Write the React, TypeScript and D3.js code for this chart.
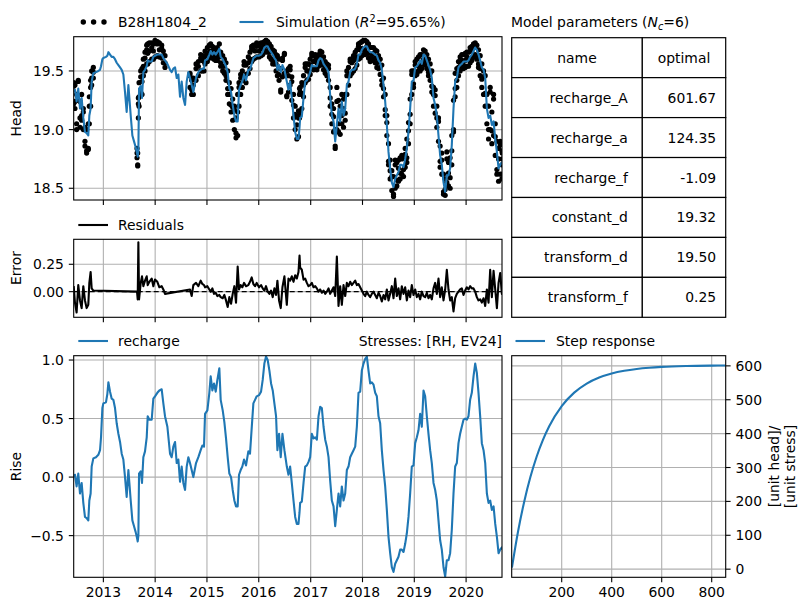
import { useEffect, useRef } from "react";
import * as d3 from "d3";

// time of each model step, decimal years
const times = [
  2012.429, 2012.453, 2012.485, 2012.517, 2012.550, 2012.582, 2012.614, 2012.646, 2012.678, 2012.710,
  2012.730, 2012.755, 2012.775, 2012.807, 2012.858, 2012.903, 2012.936, 2012.955, 2012.981, 2013.000,
  2013.051, 2013.077, 2013.097, 2013.129, 2013.161, 2013.193, 2013.225, 2013.257, 2013.290, 2013.322,
  2013.354, 2013.386, 2013.418, 2013.450, 2013.483, 2013.502, 2013.528, 2013.560, 2013.592, 2013.624,
  2013.650, 2013.663, 2013.676, 2013.689, 2013.721, 2013.746, 2013.772, 2013.804, 2013.837, 2013.856,
  2013.888, 2013.933, 2013.965, 2013.997, 2014.042, 2014.081, 2014.126, 2014.158, 2014.190, 2014.236,
  2014.287, 2014.319, 2014.351, 2014.384, 2014.416, 2014.448, 2014.480, 2014.512, 2014.544, 2014.577,
  2014.609, 2014.641, 2014.673, 2014.705, 2014.737, 2014.789, 2014.834, 2014.879, 2014.911, 2014.943,
  2014.963, 2015.008, 2015.046, 2015.072, 2015.104, 2015.136, 2015.169, 2015.201, 2015.239, 2015.265,
  2015.304, 2015.336, 2015.368, 2015.400, 2015.432, 2015.465, 2015.497, 2015.529, 2015.561, 2015.593,
  2015.619, 2015.651, 2015.683, 2015.716, 2015.754, 2015.799, 2015.831, 2015.864, 2015.896, 2015.928,
  2015.960, 2016.005, 2016.044, 2016.076, 2016.108, 2016.140, 2016.172, 2016.205, 2016.237, 2016.269,
  2016.301, 2016.333, 2016.359, 2016.391, 2016.423, 2016.456, 2016.494,
  2016.540, 2016.572, 2016.604, 2016.636, 2016.669, 2016.701, 2016.733, 2016.765, 2016.785, 2016.797,
  2016.829, 2016.862, 2016.894, 2016.926, 2016.958, 2016.990, 2017.022, 2017.055, 2017.087, 2017.119,
  2017.151, 2017.183, 2017.215, 2017.248, 2017.280, 2017.312, 2017.344, 2017.376, 2017.408, 2017.441,
  2017.473, 2017.505, 2017.537, 2017.569, 2017.601, 2017.634, 2017.666, 2017.698, 2017.730, 2017.762,
  2017.794, 2017.827, 2017.859, 2017.891, 2017.923, 2017.955, 2017.987, 2018.020, 2018.052, 2018.084,
  2018.116, 2018.148, 2018.180, 2018.213, 2018.245, 2018.277, 2018.309, 2018.341, 2018.373, 2018.406,
  2018.438, 2018.470, 2018.502, 2018.534, 2018.566, 2018.599, 2018.631, 2018.663, 2018.695, 2018.727,
  2018.759, 2018.792, 2018.824, 2018.856, 2018.888, 2018.920, 2018.952, 2018.985, 2019.017, 2019.049,
  2019.081, 2019.113, 2019.145, 2019.178, 2019.210, 2019.242, 2019.274, 2019.306, 2019.338, 2019.371,
  2019.403, 2019.435, 2019.467, 2019.499, 2019.531, 2019.564, 2019.596, 2019.628, 2019.660, 2019.692,
  2019.724, 2019.757, 2019.789, 2019.821, 2019.853, 2019.885, 2019.917, 2019.950, 2019.982, 2020.014,
  2020.046, 2020.078, 2020.110, 2020.143, 2020.175, 2020.207, 2020.239, 2020.271, 2020.303, 2020.336,
  2020.368, 2020.400, 2020.432, 2020.464, 2020.496, 2020.529, 2020.561, 2020.593, 2020.625, 2020.657,
  2020.689, 2020.694,
];

// contribution of recharge (Rise)
const rise = [
  0.00, 0.02, -0.08, 0.03, -0.14, -0.05, -0.22, -0.34, -0.35, -0.37,
  -0.20, -0.14, 0.09, 0.16, 0.17, 0.19, 0.23, 0.34, 0.59, 0.63,
  0.64, 0.71, 0.81, 0.73, 0.67, 0.66, 0.59, 0.46, 0.37, 0.30,
  0.20, 0.15, 0.00, -0.17, 0.06, -0.05, -0.20, -0.37, -0.42, -0.47,
  -0.52, -0.55, -0.50, 0.03, 0.05, -0.05, 0.17, 0.22, 0.34, 0.52,
  0.49, 0.49, 0.67, 0.69, 0.72, 0.74, 0.75, 0.63, 0.52, 0.43,
  0.20, 0.17, 0.26, 0.30, 0.12, 0.15, -0.04, 0.09, -0.05, -0.11,
  0.09, 0.17, 0.12, 0.06, 0.00, 0.12, 0.17, 0.23, 0.27, 0.26,
  0.54, 0.57, 0.72, 0.86, 0.74, 0.80, 0.73, 0.83, 0.93, 0.66,
  0.57, 0.47, 0.33, 0.17, 0.03, 0.00, -0.11, -0.20, -0.25, -0.25,
  0.02, 0.06, 0.09, 0.15, 0.10, 0.22, 0.20, 0.42, 0.63, 0.66,
  0.69, 0.70, 0.73, 0.83, 0.97, 1.03, 1.00, 0.91, 0.80, 0.74,
  0.63, 0.52, 0.23, 0.37, 0.17, 0.37, 0.23,
  0.09, 0.02, 0.09, -0.05, -0.20, -0.34, -0.40, -0.40, -0.30, -0.22,
  -0.21, -0.05, 0.09, 0.10, 0.13, 0.17, 0.37, 0.33, 0.34, 0.32,
  0.52, 0.60, 0.59, 0.43, 0.32, 0.26, 0.17, -0.03, -0.20, -0.25,
  -0.42, -0.28, -0.14, -0.25, -0.08, -0.20, -0.14, 0.06, 0.09, 0.17,
  0.20, 0.23, 0.26, 0.43, 0.72, 0.73, 0.91, 0.97, 1.01, 1.03,
  0.91, 0.80, 0.81, 0.79, 0.72, 0.69, 0.52, 0.46, 0.23, 0.06,
  -0.08, -0.28, -0.51, -0.65, -0.77, -0.81, -0.74, -0.71, -0.68, -0.62,
  -0.62, -0.64, -0.57, -0.48, -0.34, -0.14, 0.09, 0.10, 0.29, 0.34,
  0.40, 0.54, 0.43, 0.74, 0.69, 0.52, 0.37, 0.23, 0.12, -0.05,
  -0.11, -0.20, -0.37, -0.54, -0.62, -0.77, -0.85, -0.71, -0.71, -0.65,
  -0.45, -0.14, 0.09, 0.12, 0.29, 0.37, 0.43, 0.49, 0.50, 0.49,
  0.52, 0.66, 0.72, 0.86, 0.97, 0.89, 0.72, 0.52, 0.29, 0.23,
  0.12, -0.14, -0.22, -0.20, -0.28, -0.25, -0.40, -0.51, -0.65, -0.62,
  -0.60, -0.62,
];

// simulated head
const simulated = [
  19.32, 19.34, 19.24, 19.35, 19.18, 19.27, 19.10, 18.98, 18.97, 18.95,
  19.12, 19.18, 19.41, 19.48, 19.49, 19.50, 19.51, 19.54, 19.60, 19.61,
  19.62, 19.63, 19.66, 19.64, 19.62, 19.62, 19.60, 19.57, 19.55, 19.53,
  19.51, 19.47, 19.32, 19.15, 19.38, 19.27, 19.12, 18.95, 18.90, 18.85,
  18.80, 18.77, 18.82, 19.35, 19.37, 19.27, 19.49, 19.51, 19.54, 19.59,
  19.58, 19.58, 19.62, 19.63, 19.64, 19.64, 19.64, 19.61, 19.59, 19.56,
  19.51, 19.49, 19.52, 19.53, 19.44, 19.47, 19.28, 19.41, 19.27, 19.21,
  19.41, 19.49, 19.44, 19.38, 19.32, 19.44, 19.49, 19.51, 19.52, 19.52,
  19.59, 19.60, 19.64, 19.67, 19.64, 19.66, 19.64, 19.66, 19.69, 19.62,
  19.60, 19.57, 19.54, 19.49, 19.35, 19.32, 19.21, 19.12, 19.07, 19.07,
  19.34, 19.38, 19.41, 19.47, 19.42, 19.51, 19.51, 19.56, 19.61, 19.62,
  19.63, 19.63, 19.64, 19.66, 19.70, 19.71, 19.71, 19.68, 19.66, 19.64,
  19.61, 19.59, 19.51, 19.55, 19.49, 19.55, 19.51,
  19.41, 19.34, 19.41, 19.27, 19.12, 18.98, 18.92, 18.92, 19.02, 19.10,
  19.11, 19.27, 19.41, 19.42, 19.45, 19.49, 19.55, 19.54, 19.54, 19.54,
  19.59, 19.61, 19.60, 19.56, 19.54, 19.52, 19.49, 19.29, 19.12, 19.07,
  18.90, 19.04, 19.18, 19.07, 19.24, 19.12, 19.18, 19.38, 19.41, 19.49,
  19.51, 19.51, 19.52, 19.56, 19.64, 19.64, 19.68, 19.70, 19.71, 19.71,
  19.68, 19.66, 19.66, 19.65, 19.64, 19.63, 19.59, 19.57, 19.51, 19.38,
  19.24, 19.04, 18.81, 18.67, 18.55, 18.51, 18.58, 18.61, 18.64, 18.70,
  18.70, 18.68, 18.75, 18.84, 18.98, 19.18, 19.41, 19.42, 19.53, 19.54,
  19.56, 19.59, 19.56, 19.64, 19.63, 19.59, 19.55, 19.51, 19.44, 19.27,
  19.21, 19.12, 18.95, 18.78, 18.70, 18.55, 18.47, 18.61, 18.61, 18.67,
  18.87, 19.18, 19.41, 19.44, 19.53, 19.55, 19.56, 19.58, 19.58, 19.58,
  19.59, 19.62, 19.64, 19.67, 19.70, 19.68, 19.64, 19.59, 19.53, 19.51,
  19.44, 19.18, 19.10, 19.12, 19.04, 19.07, 18.92, 18.81, 18.67, 18.70,
  18.72, 18.70,
];

// observed head B28H1804_2 (null = not measured)
const observed = [
  19.37, 19.24, 19.05, 19.41, 19.10, 19.12, 19.15, 18.90, 18.82, 18.83,
  19.20, 19.36, 19.44, 19.49, null, null, null, null, null, null,
  null, null, null, null, null, null, null, null, null, null,
  null, null, null, null, null, null, null, null, null, null,
  18.80, 18.70, 19.27, 19.28, 19.45, 19.41, 19.54, 19.61, 19.68, 19.65,
  19.67, 19.70, 19.67, 19.74, 19.73, 19.68, 19.69, 19.63, 19.57, null,
  null, null, null, null, null, null, null, null, null, null,
  null, null, 19.46, 19.34, 19.38, 19.52, 19.54, 19.61, 19.59, 19.58,
  19.63, 19.65, 19.66, 19.67, 19.67, 19.64, 19.63, 19.62, 19.66, 19.57,
  19.54, 19.54, 19.46, 19.35, 19.30, 19.21, 19.19, 19.17, 18.97, 19.30,
  19.36, 19.44, 19.45, 19.55, 19.47, 19.57, 19.60, 19.69, 19.68, 19.67,
  19.71, 19.67, 19.70, 19.69, 19.71, 19.76, 19.71, 19.66, 19.67, 19.59,
  19.64, 19.56, 19.61, 19.47, 19.34, 19.59, 19.65,
  19.29, 19.46, 19.51, 19.41, 19.21, 19.13, 19.04, 19.10, 19.35, 19.32,
  19.31, 19.38, 19.53, 19.50, 19.50, 19.55, 19.63, 19.58, 19.59, 19.57,
  19.59, 19.63, 19.59, 19.57, 19.52, 19.52, 19.52, 19.27, 19.13, 19.11,
  18.86, 19.36, 19.05, 19.12, 19.12, 19.18, 19.14, 19.46, 19.46, 19.58,
  19.57, 19.59, 19.62, 19.62, 19.71, 19.68, 19.69, 19.68, 19.67, 19.71,
  19.65, 19.61, 19.64, 19.65, 19.61, 19.57, 19.58, 19.53, 19.42, 19.35,
  19.17, 19.06, 18.73, 18.65, 18.60, 18.45, 18.70, 18.57, 18.67, 18.63,
  18.75, 18.66, 18.79, 18.76, 18.99, 19.13, 19.47, 19.39, 19.55, 19.49,
  19.54, 19.52, 19.56, 19.60, 19.58, 19.58, 19.49, 19.48, 19.37, 19.30,
  19.29, 19.10, 19.07, 18.73, 18.74, 18.47, 18.49, 18.81, 18.63, 18.59,
  18.82, 19.00, 19.35, 19.42, 19.53, 19.57, 19.59, 19.55, 19.59, 19.62,
  19.61, 19.67, 19.67, 19.70, 19.70, 19.63, 19.56, 19.52, 19.43, 19.45,
  19.31, 19.20, 19.00, 19.32, 18.99, 19.26, 18.94, 18.66, 18.75, 18.87,
  18.70, 18.75,
];

// lowest and highest observed head within each step (edges of the dotted band)
const observedLow = [
  19.22, 19.18, 19.00, 19.25, 19.02, 19.08, 19.00, 18.86, 18.80, 18.84,
  19.05, 19.20, 19.38, 19.44, null, null, null, null, null, null,
  null, null, null, null, null, null, null, null, null, null,
  null, null, null, null, null, null, null, null, null, null,
  18.76, 18.69, 19.10, 19.20, 19.32, 19.30, 19.46, 19.50, 19.56, 19.56,
  19.58, 19.60, 19.60, 19.62, 19.63, 19.62, 19.61, 19.57, 19.53, null,
  null, null, null, null, null, null, null, null, null, null,
  null, null, 19.36, 19.30, 19.30, 19.42, 19.46, 19.50, 19.50, 19.50,
  19.56, 19.58, 19.61, 19.62, 19.61, 19.60, 19.59, 19.59, 19.62, 19.54,
  19.50, 19.48, 19.42, 19.30, 19.22, 19.15, 19.08, 19.00, 18.93, 18.95,
  19.20, 19.30, 19.36, 19.42, 19.40, 19.48, 19.52, 19.58, 19.60, 19.61,
  19.62, 19.62, 19.63, 19.64, 19.66, 19.67, 19.66, 19.62, 19.60, 19.56,
  19.56, 19.50, 19.46, 19.42, 19.32, 19.45, 19.48,
  19.28, 19.32, 19.38, 19.25, 19.10, 19.00, 18.92, 18.94, 19.10, 19.14,
  19.18, 19.28, 19.40, 19.42, 19.43, 19.47, 19.52, 19.51, 19.52, 19.51,
  19.54, 19.57, 19.55, 19.51, 19.48, 19.46, 19.42, 19.20, 19.05, 18.98,
  18.84, 19.00, 18.98, 18.96, 19.05, 19.02, 19.08, 19.30, 19.38, 19.46,
  19.48, 19.50, 19.52, 19.55, 19.60, 19.61, 19.63, 19.64, 19.64, 19.65,
  19.61, 19.58, 19.59, 19.60, 19.57, 19.53, 19.52, 19.47, 19.38, 19.28,
  19.12, 18.95, 18.70, 18.58, 18.48, 18.43, 18.50, 18.52, 18.56, 18.58,
  18.62, 18.60, 18.68, 18.72, 18.88, 19.05, 19.30, 19.36, 19.46, 19.47,
  19.50, 19.50, 19.52, 19.56, 19.55, 19.52, 19.46, 19.42, 19.32, 19.20,
  19.14, 19.02, 18.90, 18.68, 18.62, 18.45, 18.44, 18.55, 18.52, 18.50,
  18.70, 18.98, 19.28, 19.36, 19.46, 19.50, 19.52, 19.52, 19.53, 19.54,
  19.54, 19.57, 19.59, 19.62, 19.64, 19.60, 19.53, 19.46, 19.36, 19.30,
  19.20, 19.05, 18.92, 19.00, 18.88, 18.95, 18.78, 18.62, 18.56, 18.62,
  18.58, 18.62,
];

const observedHigh = [
  19.40, 19.38, 19.30, 19.42, 19.24, 19.30, 19.18, 19.02, 19.00, 19.05,
  19.28, 19.42, 19.50, 19.53, null, null, null, null, null, null,
  null, null, null, null, null, null, null, null, null, null,
  null, null, null, null, null, null, null, null, null, null,
  18.84, 18.80, 19.22, 19.40, 19.50, 19.52, 19.60, 19.66, 19.72, 19.73,
  19.74, 19.74, 19.73, 19.76, 19.75, 19.74, 19.72, 19.67, 19.63, null,
  null, null, null, null, null, null, null, null, null, null,
  null, null, 19.48, 19.42, 19.44, 19.56, 19.58, 19.64, 19.63, 19.62,
  19.67, 19.70, 19.72, 19.73, 19.71, 19.70, 19.68, 19.70, 19.73, 19.66,
  19.63, 19.60, 19.57, 19.50, 19.40, 19.35, 19.26, 19.20, 19.10, 19.15,
  19.40, 19.47, 19.50, 19.58, 19.55, 19.62, 19.66, 19.71, 19.72, 19.72,
  19.74, 19.72, 19.74, 19.74, 19.75, 19.76, 19.75, 19.73, 19.71, 19.68,
  19.67, 19.64, 19.63, 19.60, 19.52, 19.61, 19.64,
  19.50, 19.52, 19.54, 19.45, 19.30, 19.20, 19.12, 19.16, 19.30, 19.36,
  19.40, 19.46, 19.56, 19.56, 19.56, 19.60, 19.65, 19.63, 19.64, 19.62,
  19.64, 19.67, 19.66, 19.62, 19.58, 19.56, 19.55, 19.36, 19.22, 19.18,
  19.00, 19.24, 19.25, 19.20, 19.30, 19.26, 19.30, 19.50, 19.53, 19.60,
  19.60, 19.63, 19.66, 19.68, 19.73, 19.74, 19.75, 19.76, 19.76, 19.75,
  19.73, 19.70, 19.70, 19.70, 19.68, 19.67, 19.63, 19.60, 19.55, 19.44,
  19.30, 19.12, 18.88, 18.74, 18.65, 18.60, 18.74, 18.72, 18.74, 18.76,
  18.78, 18.76, 18.84, 18.92, 19.06, 19.26, 19.50, 19.50, 19.58, 19.60,
  19.62, 19.64, 19.64, 19.68, 19.67, 19.64, 19.60, 19.56, 19.50, 19.36,
  19.34, 19.20, 19.10, 18.86, 18.80, 18.62, 18.58, 18.75, 18.72, 18.76,
  18.95, 19.25, 19.48, 19.52, 19.58, 19.62, 19.64, 19.64, 19.65, 19.66,
  19.66, 19.70, 19.71, 19.73, 19.74, 19.72, 19.68, 19.63, 19.56, 19.50,
  19.46, 19.30, 19.20, 19.36, 19.15, 19.30, 19.05, 18.90, 18.84, 18.90,
  18.82, 18.80,
];

// residuals (observed - simulated)
const residuals = [
  0.05, -0.10, -0.19, 0.06, -0.08, -0.15, 0.05, -0.08, -0.15, -0.12,
  0.08, 0.18, 0.03, 0.01, null, null, null, null, null, null,
  null, null, null, null, null, null, null, null, null, null,
  null, null, null, null, null, null, null, null, null, null,
  0.00, -0.07, 0.45, -0.07, 0.08, 0.14, 0.05, 0.10, 0.14, 0.06,
  0.09, 0.12, 0.05, 0.11, 0.09, 0.04, 0.05, 0.02, -0.02, null,
  null, null, null, null, null, null, null, null, null, null,
  null, null, 0.02, -0.04, 0.06, 0.08, 0.05, 0.10, 0.07, 0.06,
  0.04, 0.05, 0.02, 0.00, 0.03, -0.02, -0.01, -0.04, -0.03, -0.05,
  -0.06, -0.03, -0.08, -0.14, -0.05, -0.11, -0.02, 0.05, -0.10, 0.23,
  0.02, 0.06, 0.04, 0.08, 0.05, 0.06, 0.09, 0.13, 0.07, 0.05,
  0.08, 0.04, 0.06, 0.03, 0.01, 0.05, 0.00, -0.02, 0.01, -0.05,
  0.03, -0.03, 0.10, -0.08, -0.15, 0.04, 0.14,
  -0.12, 0.12, 0.10, 0.14, 0.09, 0.15, 0.12, 0.18, 0.33, 0.22,
  0.20, 0.11, 0.12, 0.08, 0.05, 0.06, 0.08, 0.04, 0.05, 0.03,
  0.00, 0.02, -0.01, 0.01, -0.02, 0.00, 0.03, -0.02, 0.01, 0.04,
  -0.04, 0.32, -0.13, 0.05, -0.12, 0.06, -0.04, 0.08, 0.05, 0.09,
  0.06, 0.08, 0.10, 0.06, 0.07, 0.04, 0.01, -0.02, -0.04, 0.00,
  -0.03, -0.05, -0.02, 0.00, -0.03, -0.06, -0.01, -0.04, -0.09, -0.03,
  -0.07, 0.02, -0.08, -0.02, 0.05, -0.06, 0.12, -0.04, 0.03, -0.07,
  0.05, -0.02, 0.04, -0.08, 0.01, -0.05, 0.06, -0.03, 0.02, -0.05,
  -0.02, -0.07, 0.00, -0.04, -0.05, -0.01, -0.06, -0.03, -0.07, 0.03,
  0.08, -0.02, 0.12, -0.05, 0.04, -0.08, 0.02, 0.20, 0.02, -0.08,
  -0.05, -0.18, -0.06, -0.02, 0.00, 0.02, 0.03, -0.03, 0.01, 0.04,
  0.02, 0.05, 0.03, 0.03, 0.00, -0.05, -0.08, -0.07, -0.10, -0.06,
  -0.13, 0.02, -0.10, 0.20, -0.05, 0.19, 0.02, -0.15, 0.08, 0.17,
  -0.02, 0.05,
];

// step response of the recharge stress
const stepTimes = [1, 25, 50, 75, 100, 125, 150, 200, 250, 300, 350, 400, 450, 500, 550, 600, 700, 800, 855];
const stepValues = [4.8, 109.6, 199.2, 272.5, 332.5, 381.5, 421.6, 481.2, 521.0, 547.8, 565.6, 577.5, 585.5, 590.9, 594.5, 596.9, 599.5, 600.7, 601.1];

const paramNames = ["recharge_A", "recharge_a", "recharge_f", "constant_d", "transform_d", "transform_f"];
const paramValues = ["601.67", "124.35", "-1.09", "19.32", "19.50", "0.25"];

const headTicks = [18.5, 19.0, 19.5];
const errorTicks = [0.0, 0.25];
const riseTicks = [-0.5, 0.0, 0.5, 1.0];
const stepXTicks = [200, 400, 600, 800];
const stepYTicks = [0, 100, 200, 300, 400, 500, 600];

const W = 811;
const H = 611;
const FONT = "'DejaVu Sans', sans-serif";
const FS = 13.9;
const BLUE = "#1f77b4";
const GRID = "#b0b0b0";

function toDate(t: number) {
  const y = Math.floor(t);
  const a = Date.UTC(y, 0, 1);
  const b = Date.UTC(y + 1, 0, 1);
  return new Date(a + (t - y) * (b - a));
}

const minus = (s: string) => s.replace("-", "\u2212");

function App() {
  const ref = useRef<SVGSVGElement>(null);

  useEffect(() => {
    const svg = d3.select(ref.current);
    svg.selectAll("*").remove();

    const L = 73.7, R = 502;
    const headBox = { left: L, right: R, top: 36.7, bottom: 200 };
    const errBox = { left: L, right: R, top: 239.3, bottom: 317.3 };
    const riseBox = { left: L, right: R, top: 355.7, bottom: 577.3 };
    const stepBox = { left: 511.7, right: 725.7, top: 355.7, bottom: 577.3 };

    const x = d3.scaleUtc()
      .domain([new Date(Date.UTC(2012, 5, 6)), new Date(Date.UTC(2020, 8, 10))])
      .range([L, R]);
    const yHead = d3.scaleLinear().domain([18.40, 19.792]).range([headBox.bottom, headBox.top]);
    const yErr = d3.scaleLinear().domain([-0.234, 0.478]).range([errBox.bottom, errBox.top]);
    const yRise = d3.scaleLinear().domain([-0.856, 1.037]).range([riseBox.bottom, riseBox.top]);
    const xStep = d3.scaleLinear().domain([0, 856]).range([stepBox.left, stepBox.right]);
    const yStep = d3.scaleLinear().domain([-24, 630]).range([stepBox.bottom, stepBox.top]);

    const yearTicks = x.ticks(d3.utcYear.every(1));

    const data = times.map((t, i) => ({
      date: toDate(t), rise: rise[i], sim: simulated[i], obs: observed[i], res: residuals[i],
      lo: observedLow[i], hi: observedHigh[i],
    }));

    // every observed head as one dot
    const obsPoints: [Date, number][] = [];
    data.forEach(d => {
      [d.lo, d.obs, d.hi].forEach(v => { if (v !== null) obsPoints.push([d.date, v as number]); });
    });

    const text = (g: any, xx: number, yy: number, s: string, anchor = "start") =>
      g.append("text")
        .attr("x", xx).attr("y", yy)
        .attr("text-anchor", anchor)
        .attr("font-family", FONT).attr("font-size", FS)
        .attr("fill", "#000")
        .text(s);

    const clip = (id: string, b: any) => {
      svg.append("clipPath").attr("id", id).append("rect")
        .attr("x", b.left).attr("y", b.top)
        .attr("width", b.right - b.left).attr("height", b.bottom - b.top);
    };

    const grid = (b: any, xs: number[], ys: number[]) => {
      const g = svg.append("g");
      xs.forEach(v => g.append("line").attr("x1", v).attr("x2", v).attr("y1", b.top).attr("y2", b.bottom)
        .attr("stroke", GRID).attr("stroke-width", 1.1));
      ys.forEach(v => g.append("line").attr("x1", b.left).attr("x2", b.right).attr("y1", v).attr("y2", v)
        .attr("stroke", GRID).attr("stroke-width", 1.1));
    };

    const frame = (b: any) => {
      svg.append("rect").attr("x", b.left).attr("y", b.top)
        .attr("width", b.right - b.left).attr("height", b.bottom - b.top)
        .attr("fill", "none").attr("stroke", "#000").attr("stroke-width", 1.1);
    };

    const bottomTicks = (b: any, xs: number[], labels: string[] | null) => {
      const g = svg.append("g");
      xs.forEach((v, i) => {
        g.append("line").attr("x1", v).attr("x2", v).attr("y1", b.bottom).attr("y2", b.bottom + 4.9)
          .attr("stroke", "#000").attr("stroke-width", 1.1);
        if (labels) text(g, v, b.bottom + 19.5, labels[i], "middle");
      });
    };

    const leftTicks = (b: any, ys: number[], labels: string[]) => {
      const g = svg.append("g");
      ys.forEach((v, i) => {
        g.append("line").attr("x1", b.left - 4.9).attr("x2", b.left).attr("y1", v).attr("y2", v)
          .attr("stroke", "#000").attr("stroke-width", 1.1);
        text(g, b.left - 9.8, v + 5, labels[i], "end");
      });
    };

    const ylabel = (xx: number, yy: number, s: string) => {
      svg.append("text")
        .attr("transform", `translate(${xx},${yy}) rotate(-90)`)
        .attr("text-anchor", "middle")
        .attr("font-family", FONT).attr("font-size", FS)
        .text(s);
    };

    const yearX = yearTicks.map(d => x(d));
    const yearLabels = yearTicks.map(d => d3.utcFormat("%Y")(d));

    // ---------- Head panel ----------
    clip("clip-head", headBox);
    grid(headBox, yearX, headTicks.map(v => yHead(v)));
    const gHead = svg.append("g").attr("clip-path", "url(#clip-head)");
    gHead.selectAll("circle")
      .data(obsPoints)
      .enter().append("circle")
      .attr("cx", d => x(d[0])).attr("cy", d => yHead(d[1]))
      .attr("r", 2.6).attr("fill", "#000");
    gHead.append("path")
      .datum(data)
      .attr("d", d3.line<any>().x(d => x(d.date)).y(d => yHead(d.sim)))
      .attr("fill", "none").attr("stroke", BLUE).attr("stroke-width", 2.1)
      .attr("stroke-linejoin", "round");
    frame(headBox);
    bottomTicks(headBox, yearX, null);
    leftTicks(headBox, headTicks.map(v => yHead(v)), headTicks.map(v => d3.format(".1f")(v)));
    ylabel(21, (headBox.top + headBox.bottom) / 2, "Head");

    // legend
    const lg = svg.append("g");
    [83.3, 93.6, 104].forEach(cx => lg.append("circle").attr("cx", cx).attr("cy", 22).attr("r", 2.7).attr("fill", "#000"));
    text(lg, 118, 27, "B28H1804_2");
    lg.append("line").attr("x1", 239.5).attr("x2", 263.5).attr("y1", 22).attr("y2", 22)
      .attr("stroke", BLUE).attr("stroke-width", 2.1);
    const simText = text(lg, 276, 27, "Simulation (");
    simText.append("tspan").attr("font-style", "italic").text("R");
    simText.append("tspan").attr("font-size", FS * 0.7).attr("dy", -5.5).text("2");
    simText.append("tspan").attr("dy", 5.5).text("=95.65%)");

    // ---------- Error panel ----------
    clip("clip-err", errBox);
    grid(errBox, yearX, errorTicks.map(v => yErr(v)));
    const gErr = svg.append("g").attr("clip-path", "url(#clip-err)");
    gErr.append("line").attr("x1", L).attr("x2", R).attr("y1", yErr(0)).attr("y2", yErr(0))
      .attr("stroke", "#000").attr("stroke-width", 1.1).attr("stroke-dasharray", "5,3");
    gErr.append("path")
      .datum(data.filter(d => d.res !== null))
      .attr("d", d3.line<any>().x(d => x(d.date)).y(d => yErr(d.res)))
      .attr("fill", "none").attr("stroke", "#000").attr("stroke-width", 2.1)
      .attr("stroke-linejoin", "round");
    frame(errBox);
    bottomTicks(errBox, yearX, null);
    leftTicks(errBox, errorTicks.map(v => yErr(v)), errorTicks.map(v => d3.format(".2f")(v)));
    ylabel(21, 268, "Error");
    const le = svg.append("g");
    le.append("line").attr("x1", 78.3).attr("x2", 108).attr("y1", 225).attr("y2", 225)
      .attr("stroke", "#000").attr("stroke-width", 2.1);
    text(le, 118, 230, "Residuals");

    // ---------- Rise panel ----------
    clip("clip-rise", riseBox);
    grid(riseBox, yearX, riseTicks.map(v => yRise(v)));
    svg.append("g").attr("clip-path", "url(#clip-rise)")
      .append("path")
      .datum(data)
      .attr("d", d3.line<any>().x(d => x(d.date)).y(d => yRise(d.rise)))
      .attr("fill", "none").attr("stroke", BLUE).attr("stroke-width", 2.1)
      .attr("stroke-linejoin", "round");
    frame(riseBox);
    bottomTicks(riseBox, yearX, yearLabels);
    leftTicks(riseBox, riseTicks.map(v => yRise(v)), riseTicks.map(v => minus(d3.format(".1f")(v))));
    ylabel(21, (riseBox.top + riseBox.bottom) / 2, "Rise");
    const lr = svg.append("g");
    lr.append("line").attr("x1", 78.3).attr("x2", 108).attr("y1", 341).attr("y2", 341)
      .attr("stroke", BLUE).attr("stroke-width", 2.1);
    text(lr, 118, 346, "recharge");
    text(lr, R, 346, "Stresses: [RH, EV24]", "end");

    // ---------- Step response panel ----------
    clip("clip-step", stepBox);
    grid(stepBox, stepXTicks.map(v => xStep(v)), stepYTicks.map(v => yStep(v)));
    svg.append("g").attr("clip-path", "url(#clip-step)")
      .append("path")
      .datum(stepTimes.map((t, i) => [t, stepValues[i]]))
      .attr("d", d3.line<any>().x(d => xStep(d[0])).y(d => yStep(d[1])).curve(d3.curveMonotoneX))
      .attr("fill", "none").attr("stroke", BLUE).attr("stroke-width", 2.1);
    frame(stepBox);
    bottomTicks(stepBox, stepXTicks.map(v => xStep(v)), stepXTicks.map(v => String(v)));
    const gs = svg.append("g");
    stepYTicks.forEach(v => {
      const yy = yStep(v);
      gs.append("line").attr("x1", stepBox.right).attr("x2", stepBox.right + 4.9).attr("y1", yy).attr("y2", yy)
        .attr("stroke", "#000").attr("stroke-width", 1.1);
      text(gs, stepBox.right + 9.8, yy + 5, String(v));
    });
    const mid = (stepBox.top + stepBox.bottom) / 2;
    ylabel(779, mid, "[unit head]/");
    ylabel(795, mid, "[unit stress]");
    const ls = svg.append("g");
    ls.append("line").attr("x1", 515.5).attr("x2", 545).attr("y1", 341).attr("y2", 341)
      .attr("stroke", BLUE).attr("stroke-width", 2.1);
    text(ls, 556, 346, "Step response");

    // ---------- Parameter table ----------
    const tb = { left: 511.7, right: 725.7, top: 37.7, bottom: 317.3 };
    const split = 642.3;
    const rowH = (tb.bottom - tb.top) / (paramNames.length + 1);
    const gt = svg.append("g");
    const title = text(gt, 511, 27, "Model parameters (");
    title.append("tspan").attr("font-style", "italic").text("N");
    title.append("tspan").attr("font-style", "italic").attr("font-size", FS * 0.7).attr("dy", 3).text("c");
    title.append("tspan").attr("dy", -3).text("=6)");
    for (let r = 0; r <= paramNames.length; r++) {
      const y0 = tb.top + r * rowH;
      gt.append("rect").attr("x", tb.left).attr("y", y0).attr("width", split - tb.left).attr("height", rowH)
        .attr("fill", "#fff").attr("stroke", "#000").attr("stroke-width", 1.2);
      gt.append("rect").attr("x", split).attr("y", y0).attr("width", tb.right - split).attr("height", rowH)
        .attr("fill", "#fff").attr("stroke", "#000").attr("stroke-width", 1.2);
      const cy = y0 + rowH / 2 + 5;
      if (r === 0) {
        text(gt, (tb.left + split) / 2, cy, "name", "middle");
        text(gt, (split + tb.right) / 2, cy, "optimal", "middle");
      } else {
        text(gt, split - 14.5, cy, paramNames[r - 1], "end");
        text(gt, tb.right - 9.5, cy, paramValues[r - 1], "end");
      }
    }
  }, []);

  return (
    <svg
      ref={ref}
      width={W}
      height={H}
      style={{ position: "absolute", left: 0, top: 0, background: "#fff" }}
    />
  );
}

export default App;
